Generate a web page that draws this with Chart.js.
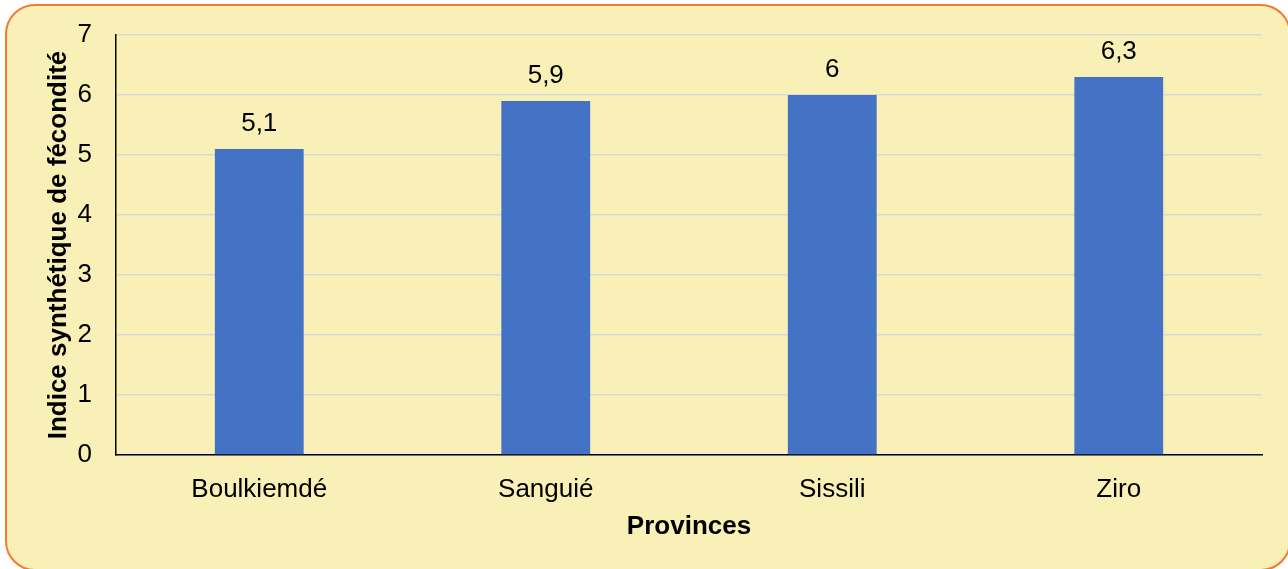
<!DOCTYPE html>
<html lang="fr">
<head>
<meta charset="utf-8">
<title>Indice synthétique de fécondité par province</title>
<script src="https://cdn.jsdelivr.net/npm/chart.js@4.4.0/dist/chart.umd.min.js"></script>
<style>
    html, body { margin: 0; padding: 0; width: 1288px; height: 569px; overflow: hidden; background: #ffffff; }
    #frame {
        position: absolute; left: 5px; top: 4px; width: 1282px; height: 563px;
        background: #f8f0b6; border: 2.5px solid #ed7d31; border-radius: 30px;
    }
    #wrap { position: absolute; left: 0; top: 0; width: 1288px; height: 569px; }
</style>
</head>
<body>
<div id="frame"></div>
<div id="wrap"><canvas id="isf-chart"></canvas></div>
<script>
// Data
const provinces = ['Boulkiemdé', 'Sanguié', 'Sissili', 'Ziro'];
const isfValues = [5.1, 5.9, 6, 6.3];
const yTicks = [0, 1, 2, 3, 4, 5, 6, 7];

const FONT = 'Arial, "Liberation Sans", sans-serif';

// draws the value above each bar, with a decimal comma
const barValueLabels = {
    id: 'barValueLabels',
    afterDatasetsDraw(chart) {
        const ctx = chart.ctx;
        const meta = chart.getDatasetMeta(0);
        ctx.save();
        ctx.font = '26px ' + FONT;
        ctx.fillStyle = '#000000';
        ctx.textAlign = 'center';
        ctx.textBaseline = 'middle';
        meta.data.forEach((bar, i) => {
            const label = String(isfValues[i]).replace('.', ',');
            ctx.fillText(label, bar.x, bar.y - 25);
        });
        ctx.restore();
    }
};

document.addEventListener('DOMContentLoaded', function () {
    const ctx = document.getElementById('isf-chart');
    new Chart(ctx, {
        type: 'bar',
        data: {
            labels: provinces,
            datasets: [{
                data: isfValues,
                backgroundColor: '#4472c4',
                borderWidth: 0,
                categoryPercentage: 1,
                barPercentage: 0.31
            }]
        },
        options: {
            responsive: true,
            maintainAspectRatio: false,
            animation: false,
            layout: { padding: { left: 0, right: 26, top: 35, bottom: 0 } },
            plugins: {
                legend: { display: false },
                tooltip: { enabled: false }
            },
            scales: {
                x: {
                    afterFit: function (scale) { scale.height = 114; },
                    grid: { display: false, drawTicks: false },
                    border: { color: '#000000', width: 1.5 },
                    ticks: { color: '#000000', padding: 19, font: { family: FONT, size: 26 } },
                    title: {
                        display: true,
                        text: 'Provinces',
                        color: '#000000',
                        padding: { top: 0, bottom: 27 },
                        font: { family: FONT, size: 26, weight: 'bold' }
                    }
                },
                y: {
                    min: 0,
                    max: 7,
                    afterFit: function (scale) {
                        scale.width = 116;
                        scale.paddingTop = 0;
                        scale.paddingBottom = 0;
                    },
                    afterBuildTicks: function (scale) {
                        scale.ticks = yTicks.map(v => ({ value: v }));
                    },
                    grid: { color: '#d9d9d9', lineWidth: 1.5, drawTicks: false },
                    border: { color: '#000000', width: 1.5 },
                    ticks: { color: '#000000', padding: 24, font: { family: FONT, size: 26 } },
                    title: {
                        display: true,
                        text: 'Indice synthétique de fécondité',
                        color: '#000000',
                        padding: { top: 43, bottom: 0 },
                        font: { family: FONT, size: 26, weight: 'bold' }
                    }
                }
            }
        },
        plugins: [barValueLabels]
    });
});
</script>
</body>
</html>
